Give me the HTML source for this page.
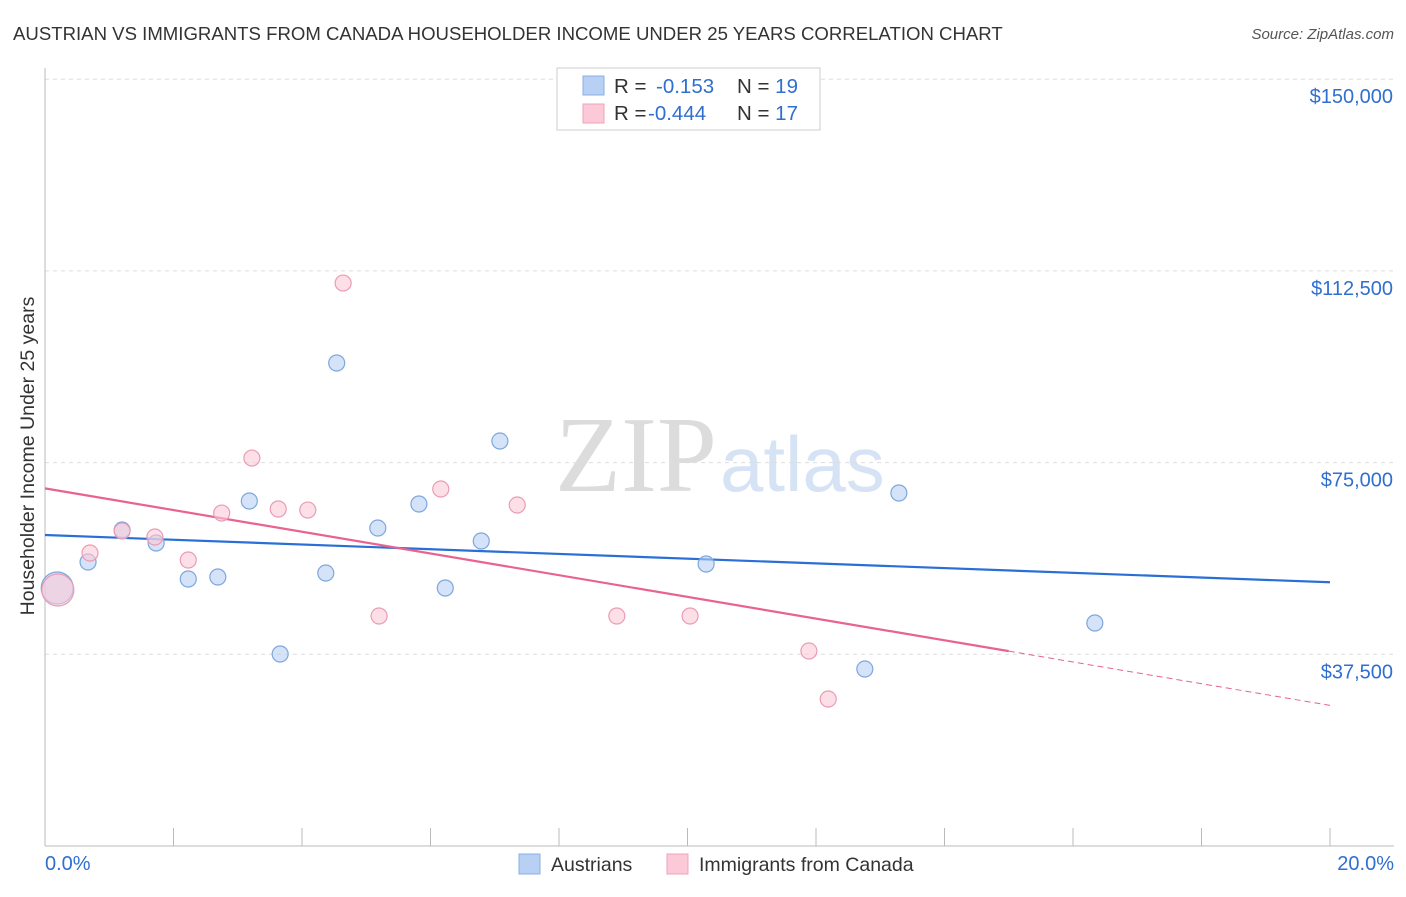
<!DOCTYPE html>
<html><head><meta charset="utf-8"><style>
body{margin:0;background:#fff;font-family:"Liberation Sans",sans-serif;}
svg text{font-family:"Liberation Sans",sans-serif;}
</style></head><body>
<svg id="chart" width="1406" height="892">
<text x="13" y="40" font-size="18.6" fill="#333">AUSTRIAN VS IMMIGRANTS FROM CANADA HOUSEHOLDER INCOME UNDER 25 YEARS CORRELATION CHART</text>
<text x="1394" y="39" font-size="15" fill="#555" font-style="italic" text-anchor="end">Source: ZipAtlas.com</text>
<g>
<text x="555" y="491" font-size="108" fill="#dcdcdc" style="font-family:'Liberation Serif',serif">ZIP</text>
<text x="720" y="491" font-size="78" fill="#d6e3f5">atlas</text>
</g>
<g id="grid"></g><g id="axes"></g><g id="trends"></g><g id="points"></g>
<text transform="translate(34,456) rotate(-90)" font-size="19.5" fill="#333" text-anchor="middle">Householder Income Under 25 years</text>
<g>
<rect x="557" y="68" width="263" height="62" fill="#fff" stroke="#ccc"/>
<rect x="583" y="76" width="21" height="19" fill="#b7d0f3" stroke="#8ab0e6"/>
<rect x="583" y="104" width="21" height="19" fill="#fbc9d7" stroke="#f0a3bb"/>
<text x="614" y="93" font-size="20.5" fill="#333">R = <tspan x="656" fill="#2f6fd0">-0.153</tspan><tspan x="737" fill="#333">N = </tspan><tspan fill="#2f6fd0">19</tspan></text>
<text x="614" y="120" font-size="20.5" fill="#333">R = <tspan x="648" fill="#2f6fd0">-0.444</tspan><tspan x="737" fill="#333">N = </tspan><tspan fill="#2f6fd0">17</tspan></text>
</g>
<g>
<rect x="519" y="854" width="21" height="20" fill="#b7d0f3" stroke="#8ab0e6"/>
<text x="551" y="871" font-size="19.5" fill="#333">Austrians</text>
<rect x="667" y="854" width="21" height="20" fill="#fbc9d7" stroke="#f0a3bb"/>
<text x="699" y="871" font-size="19.5" fill="#333">Immigrants from Canada</text>
</g>
<text x="45" y="870" font-size="20" fill="#2f6fd0">0.0%</text>
<text x="1394" y="870" font-size="20" fill="#2f6fd0" text-anchor="end">20.0%</text>
</svg>
<script>
const yTicks=[37500,75000,112500,150000];
const yTickLabels=["$37,500","$75,000","$112,500","$150,000"];
const xTicks=[0,2,4,6,8,10,12,14,16,18,20];
const blueX=[0.19,0.67,1.20,1.73,2.23,2.69,3.18,3.66,4.37,4.54,5.18,5.82,6.23,6.79,7.08,10.29,12.76,13.29,16.34];
const blueY=[50470,55550,61810,59270,52230,52620,67490,37560,53400,94480,62200,66900,50470,59660,79220,55160,34620,69050,43620];
const pinkX=[0.20,0.70,1.20,1.71,2.23,2.75,3.22,3.63,4.09,4.64,5.20,6.16,7.35,8.90,10.04,11.89,12.19];
const pinkY=[50080,57310,61610,60440,55940,65130,75890,65920,65720,110120,44990,69830,66700,44990,44990,38140,28750];
const NS="http://www.w3.org/2000/svg";
const xs=v=>45+v/20*1285, ys=v=>846-v/37500*191.7;
function mk(p,tag,a){const e=document.createElementNS(NS,tag);for(const k in a)e.setAttribute(k,a[k]);document.getElementById(p).appendChild(e);return e;}
yTicks.forEach((t,i)=>{
 const l=mk('grid','line',{x1:45,x2:1394,y1:ys(t),y2:ys(t),stroke:'#ddd','stroke-dasharray':'4,4'});
 
 
 const tx=mk('grid','text',{x:1393,y:ys(t)+24,'font-size':20,fill:'#2f6fd0','text-anchor':'end'});
 tx.textContent=yTickLabels[i];
 
 
});
let ax=mk('axes','line',{x1:45,x2:1394,y1:846,y2:846,stroke:'#bbb'});


ax=mk('axes','line',{x1:45,x2:45,y1:68,y2:846,stroke:'#bbb'});


xTicks.forEach(t=>{const e=mk('axes','line',{x1:xs(t),x2:xs(t),y1:828,y2:846,stroke:'#bbb'});
 
 });
function reg(X,Y){const n=X.length;let mx=0,my=0;X.forEach((x,i)=>{mx+=x;my+=Y[i];});mx/=n;my/=n;let sxy=0,sxx=0;X.forEach((x,i)=>{sxy+=(x-mx)*(Y[i]-my);sxx+=(x-mx)**2;});const b=sxy/sxx;return[my-b*mx,b];}
const [ba,bb]=reg(blueX,blueY),[pa,pb]=reg(pinkX,pinkY);
let t=mk('trends','line',{x1:xs(0),y1:ys(ba),x2:xs(20),y2:ys(ba+bb*20),stroke:'#2a6fd6','stroke-width':2.2});


t=mk('trends','line',{x1:xs(0),y1:ys(pa),x2:xs(15),y2:ys(pa+pb*15),stroke:'#e8638e','stroke-width':2.2});


t=mk('trends','line',{x1:xs(15),y1:ys(pa+pb*15),x2:xs(20),y2:ys(pa+pb*20),stroke:'#e8638e','stroke-width':1,'stroke-dasharray':'6,4'});


function pts(X,Y,fill,stroke,name){X.forEach((x,i)=>{const r=i===0?16:8;
 const c=mk('points','circle',{cx:xs(x),cy:ys(Y[i]),r:r,fill:fill,stroke:stroke,'stroke-width':1.2,'fill-opacity':0.6});
 
 });}
pts(blueX,blueY,'#b7d0f3','#7ea6de','austrians-point');
pts(pinkX,pinkY,'#fbc9d7','#eb9bb5','immigrants-point');
</script>
</body></html>
